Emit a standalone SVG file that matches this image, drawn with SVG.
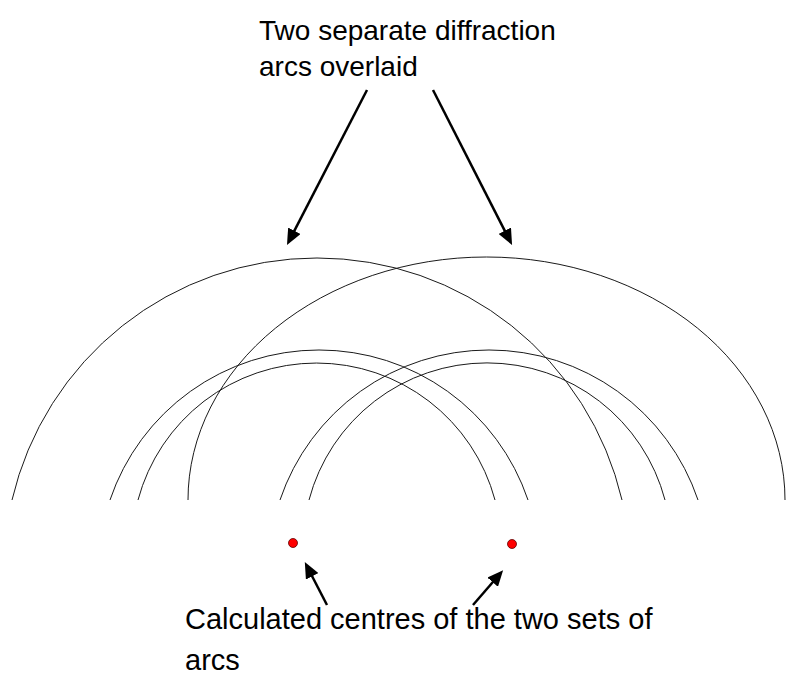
<svg xmlns="http://www.w3.org/2000/svg" width="790" height="695" viewBox="0 0 790 695">
  <style>
    .arc { fill: none; stroke: #1a1a1a; stroke-width: 1; }
    .lbl { font-family: "Liberation Sans", Arial, sans-serif; font-size: 28px; fill: #000; }
    .lbl2 { font-size: 29px; }
    .arrow { stroke: #000; stroke-width: 2.5; fill: none; marker-end: url(#head); }
    .dot { fill: #ff0000; stroke: #600000; stroke-width: 0.8; }
  </style>
  <defs>
    <marker id="head" markerUnits="userSpaceOnUse" markerWidth="16" markerHeight="14" refX="6" refY="7" orient="auto" viewBox="0 0 16 14">
      <path d="M0,0 L16,7 L0,14 z" fill="#000"/>
    </marker>
  </defs>
  <rect width="790" height="695" fill="#fff"/>

  <g id="arcs-left">
    <path class="arc" d="M12,500 A313.2,313.2 0 0 1 622,500"/>
    <path class="arc" d="M110,500 A220.6,220.6 0 0 1 528,500"/>
    <path class="arc" d="M138,500 A184.8,184.8 0 0 1 495,500"/>
  </g>
  <g id="arcs-right">
    <path class="arc" d="M188,500 A298.5,243 0 0 1 785,500"/>
    <path class="arc" d="M280,500 A220.6,220.6 0 0 1 698,500"/>
    <path class="arc" d="M309,500 A184.1,184.1 0 0 1 665,500"/>
  </g>

  <g id="centre-left"><circle class="dot" cx="293" cy="543" r="4.5"/></g>
  <g id="centre-right"><circle class="dot" cx="512" cy="544" r="4.5"/></g>

  <g id="label-top">
    <text class="lbl" x="259" y="40">Two separate diffraction</text>
    <text class="lbl" x="259" y="76">arcs overlaid</text>
  </g>
  <g id="label-bottom">
    <text class="lbl lbl2" x="185" y="629">Calculated centres of the two sets of</text>
    <text class="lbl lbl2" x="185" y="670">arcs</text>
  </g>

  <g id="connectors">
    <line class="arrow" x1="327" y1="605" x2="309.4" y2="571"/>
    <line class="arrow" x1="367" y1="90" x2="291.6" y2="236.1"/>
    <line class="arrow" x1="433" y1="90" x2="507.5" y2="236.1"/>
    <line class="arrow" x1="473" y1="605" x2="496.6" y2="577.7"/>
  </g>
</svg>
